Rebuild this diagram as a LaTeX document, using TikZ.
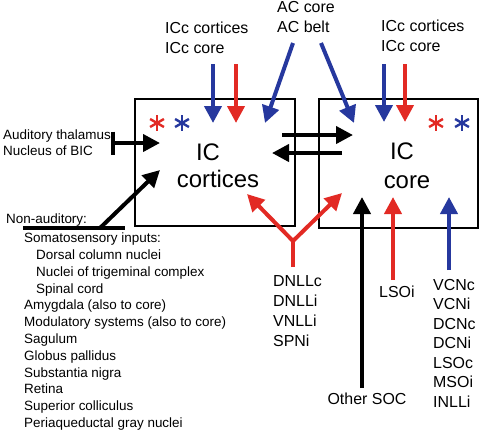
\documentclass[tikz,border=0pt]{standalone}
\usepackage{fontspec}
\setmainfont{Liberation Sans}
\usepackage{xcolor}
\usepackage{tikz}
\usetikzlibrary{arrows.meta, positioning, calc}
\definecolor{rougeIC}{RGB}{226,42,36}
\definecolor{bleuIC}{RGB}{38,56,158}

\begin{document}
\begin{tikzpicture}[x=1bp, y=-1bp,
        fleche/.style={line width=4bp, -{Triangle[length=17bp, width=17bp]}},
        trait/.style={line width=4bp},
        boite/.style={draw, line width=1.2bp},
        lab/.style={inner sep=0pt, font=\fontsize{16}{20}\selectfont, anchor=base west},
        gros/.style={inner sep=0pt, font=\fontsize{24}{29}\selectfont, anchor=base},
        liste/.style={inner sep=0pt, font=\fontsize{13.5}{16.8}\selectfont, anchor=base west}]
        \useasboundingbox (0,0) rectangle (480,431);

        % Deux boites : IC cortices et IC core
        \draw[boite] (135,99) rectangle (295,226);
        \draw[boite] (319,99) rectangle (478,228);
        \node[gros] (ICg) at (208,160) {IC};
        \node[gros] (cortices) at (218,187) {cortices};
        \node[gros] (ICd) at (402,159) {IC};
        \node[gros] (core) at (407,188) {core};

        % Asterisques
        \foreach \cx/\col in {157/rougeIC, 182/bleuIC, 436/rougeIC, 462/bleuIC} {
            \foreach \a in {30,90,...,330} {
                \draw[\col, line width=2.4bp] (\cx,123) -- ++(\a:8);
            }
        }

        % Etiquettes du haut
        \node[lab] (icc1a) at (165,33) {ICc cortices};
        \node[lab] (icc1b) at (165,53) {ICc core};
        \node[lab] (ac1) at (277,12) {AC core};
        \node[lab] (ac2) at (277,32) {AC belt};
        \node[lab] (icc2a) at (381,31) {ICc cortices};
        \node[lab] (icc2b) at (381,51) {ICc core};

        % Points d'arrivee et de depart
        \coordinate (gBleuH) at (213,64);  \coordinate (gBleu) at (213,123);
        \coordinate (gRougeH) at (236,64); \coordinate (gRouge) at (236,123);
        \coordinate (dBleuH) at (384,64);  \coordinate (dBleu) at (384,122);
        \coordinate (dRougeH) at (405,64); \coordinate (dRouge) at (405,122);
        \coordinate (acG) at (293,43);     \coordinate (gAC) at (265,123);
        \coordinate (acD) at (321,43);     \coordinate (dAC) at (354,123);

        % Projections descendantes
        \draw[fleche, bleuIC] (gBleuH) -- (gBleu);
        \draw[fleche, rougeIC] (gRougeH) -- (gRouge);
        \draw[fleche, bleuIC] (dBleuH) -- (dBleu);
        \draw[fleche, rougeIC] (dRougeH) -- (dRouge);
        \draw[fleche, bleuIC] (acG) -- (gAC);
        \draw[fleche, bleuIC] (acD) -- (dAC);

        % Echanges entre les deux boites
        \coordinate (ech1a) at (282,135); \coordinate (ech1b) at (353,135);
        \coordinate (ech2a) at (342,153); \coordinate (ech2b) at (272,153);
        \draw[fleche] (ech1a) -- (ech1b);
        \draw[fleche] (ech2a) -- (ech2b);

        % Entrees de gauche
        \node[liste] (thal1) at (3,139) {Auditory thalamus};
        \node[liste] (thal2) at (3,155) {Nucleus of BIC};
        \coordinate (barre) at (113,143); \coordinate (gThal) at (160,143);
        \draw[fleche] (barre) -- (gThal);
        \draw[trait] ($(barre)+(0,-11.5)$) -- ($(barre)+(0,11.5)$);

        \node[liste] (nonaud) at (6,223) {Non-auditory:};
        \coordinate (souligneA) at (23,228); \coordinate (souligneB) at (125,228);
        \coordinate (depNon) at (100,228); \coordinate (gNon) at (160,170);
        \draw[trait] (souligneA) -- (souligneB);
        \draw[fleche] (depNon) -- (gNon);

        \foreach \txt/\dx [count=\k] in {Somatosensory inputs:/0, Dorsal column nuclei/12,
            Nuclei of trigeminal complex/12, Spinal cord/12, Amygdala (also to core)/0,
            Modulatory systems (also to core)/0, Sagulum/0, Globus pallidus/0,
            Substantia nigra/0, Retina/0, Superior colliculus/0, Periaqueductal gray nuclei/0} {
            \node[liste] (na\k) at (24+\dx, 242.7+16.8*\k-16.8) {\txt};
        }

        % Entrees du bas
        \foreach \txt [count=\k] in {DNLLc, DNLLi, VNLLi, SPNi} {
            \node[lab] (nl\k) at (273, 286.7+20*\k-20) {\txt};
        }
        \node[lab] (lsoi) at (379,297) {LSOi};
        \node[lab, anchor=base] (soc) at (367,404) {Other SOC};
        \foreach \txt [count=\k] in {VCNc, VCNi, DCNc, DCNi, LSOc, MSOi, INLLi} {
            \node[lab] (cn\k) at (433, 290+19.5*\k-19.5) {\txt};
        }

        \coordinate (pied) at (293,267); \coordinate (fourche) at (293,241);
        \coordinate (gDNLL) at (247,194); \coordinate (dDNLL) at (342,193);
        \draw[trait, rougeIC] (pied) -- (fourche);
        \draw[fleche, rougeIC] (fourche) -- (gDNLL);
        \draw[fleche, rougeIC] (fourche) -- (dDNLL);

        \coordinate (socB) at (362,388); \coordinate (dSOC) at (362,197);
        \coordinate (lsoB) at (393,280); \coordinate (dLSO) at (393,197);
        \coordinate (vcnB) at (449,270); \coordinate (dVCN) at (449,197);
        \draw[fleche] (socB) -- (dSOC);
        \draw[fleche, rougeIC] (lsoB) -- (dLSO);
        \draw[fleche, bleuIC] (vcnB) -- (dVCN);

    \end{tikzpicture}
\end{document}
